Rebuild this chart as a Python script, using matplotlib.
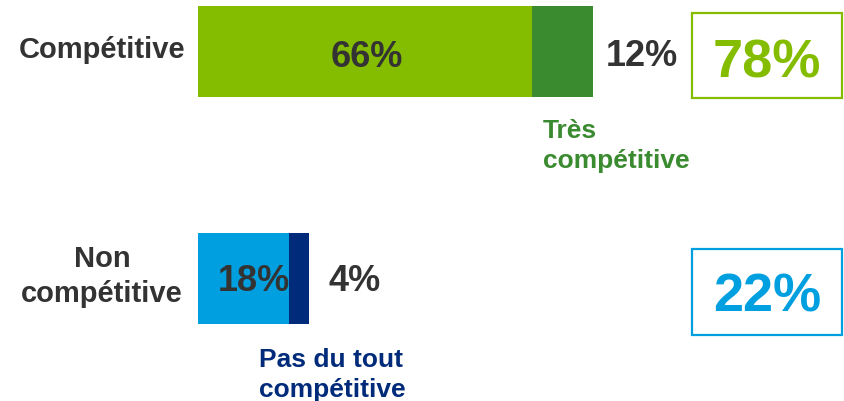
import matplotlib
matplotlib.use("Agg")
import matplotlib.pyplot as plt
from matplotlib.patches import Rectangle

# data
categories = ["Compétitive", "Non\ncompétitive"]
main_vals = [66, 18]
strong_vals = [12, 4]
strong_labels = ["Très\ncompétitive", "Pas du tout\ncompétitive"]
totals = [78, 22]

main_colors = ["#84BC00", "#009FDF"]
strong_colors = ["#3A8A30", "#002A7A"]
text_dark = "#333333"

plt.rcParams["font.family"] = ["Liberation Sans", "DejaVu Sans"]
plt.rcParams["font.weight"] = "bold"

W, H = 844, 402
fig = plt.figure(figsize=(W / 100, H / 100), dpi=100)

# bar axes: x in percent, y in pixel rows
px_per_pct = 5.06
x0 = 198
ax = fig.add_axes([0, 0, 1, 1])
ax.set_xlim(-x0 / px_per_pct, (W - x0) / px_per_pct)
ax.set_ylim(H, 0)
ax.axis("off")

bar_y = [52.5, 279.5]
bar_h = 91
ax.barh(bar_y, main_vals, height=bar_h, color=main_colors, linewidth=0)
ax.barh(bar_y, strong_vals, left=main_vals, height=bar_h, color=strong_colors, linewidth=0)

# overlay in pixel coords for labels and boxes
ov = fig.add_axes([0, 0, 1, 1])
ov.set_xlim(0, W)
ov.set_ylim(H, 0)
ov.axis("off")
ov.patch.set_alpha(0)

def lines(x, y, txt, step, **kw):
    for i, part in enumerate(txt.split("\n")):
        ov.text(x, y + i * step, part, va="baseline", **kw)

# left category labels
lines(102, 58, categories[0], 35, ha="center", fontsize=21, color=text_dark)
lines(102, 267, categories[1], 35, ha="center", fontsize=21, color=text_dark)

# values inside / next to bars
ov.text(367, 67, f"{main_vals[0]}%", ha="center", va="baseline", fontsize=26, color=text_dark)
ov.text(642, 66, f"{strong_vals[0]}%", ha="center", va="baseline", fontsize=26, color=text_dark)
ov.text(254, 291, f"{main_vals[1]}%", ha="center", va="baseline", fontsize=26, color=text_dark)
ov.text(355, 291, f"{strong_vals[1]}%", ha="center", va="baseline", fontsize=26, color=text_dark)

# sub labels
lines(543, 138, strong_labels[0], 30, ha="left", fontsize=19, color=strong_colors[0])
lines(259, 367, strong_labels[1], 30, ha="left", fontsize=19, color=strong_colors[1])

# total boxes
box_tops = [14, 250]
box_hs = [85, 86]
box_text_y = [77, 312]
for i in range(2):
    ov.add_patch(Rectangle((692, box_tops[i]), 150, box_hs[i], fill=False,
                           edgecolor=main_colors[i], linewidth=1.6))
    ov.text(767, box_text_y[i], f"{totals[i]}%", ha="center", va="baseline",
            fontsize=39, color=main_colors[i])

fig.savefig("out.png", dpi=100)
